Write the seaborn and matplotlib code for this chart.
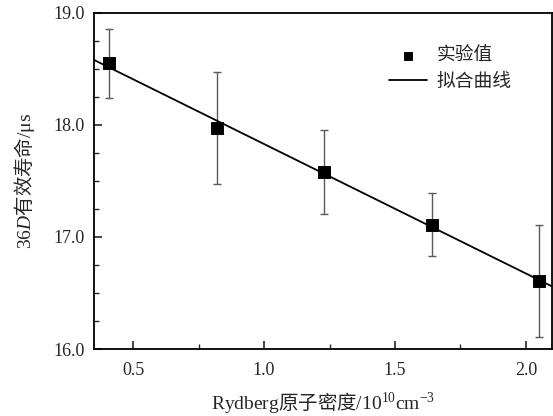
import numpy as np
import pandas as pd
import matplotlib
matplotlib.use("Agg")
import matplotlib.pyplot as plt
import seaborn as sns
from matplotlib.ticker import MultipleLocator, FormatStrFormatter

# data
density = [0.41, 0.82, 1.23, 1.64, 2.05]          # 10^10 cm^-3
lifetime = [18.55, 17.97, 17.58, 17.11, 16.61]     # us
lifetime_err = [0.31, 0.50, 0.375, 0.28, 0.50]

X_RANGE = (0.351, 2.099)
Y_RANGE = (16.0, 19.0)

sns.set_theme(style="ticks")
plt.rcParams["font.family"] = ["Liberation Serif", "Noto Sans CJK SC"]
plt.rcParams["mathtext.fontset"] = "custom"
plt.rcParams["mathtext.rm"] = "Liberation Serif"
plt.rcParams["mathtext.it"] = "Liberation Serif:italic"
plt.rcParams["mathtext.sf"] = "Noto Sans CJK SC"

df = pd.DataFrame({"x": density, "y": lifetime, "err": lifetime_err})

# linear fit
k, b = np.polyfit(df["x"], df["y"], 1)
fit = pd.DataFrame({"x": list(X_RANGE)})
fit["y"] = k * fit["x"] + b

fig = plt.figure(figsize=(5.53, 4.16), dpi=100)
ax = fig.add_axes([0.170, 0.161, 0.828, 0.808])

ax.errorbar(df["x"], df["y"], yerr=df["err"], fmt="none", ecolor="#5a5a5a",
            elinewidth=1.0, capsize=3, capthick=1.0, zorder=2)
sns.lineplot(data=fit, x="x", y="y", color="black", linewidth=1.3,
             label="拟合曲线", ax=ax, zorder=3)
sns.scatterplot(data=df, x="x", y="y", marker="s", s=70, color="black",
                edgecolor="black", label="实验值", ax=ax, zorder=4)

ax.set_xlim(*X_RANGE)
ax.set_ylim(*Y_RANGE)
ax.xaxis.set_major_locator(MultipleLocator(0.5))
ax.xaxis.set_minor_locator(MultipleLocator(0.25))
ax.yaxis.set_major_locator(MultipleLocator(1.0))
ax.yaxis.set_minor_locator(MultipleLocator(0.25))
ax.xaxis.set_major_formatter(FormatStrFormatter("%.1f"))
ax.yaxis.set_major_formatter(FormatStrFormatter("%.1f"))
ax.tick_params(which="major", direction="in", length=6, width=1.2,
               labelsize=13, top=False, right=False, pad=7)
ax.tick_params(axis="x", which="major", pad=9)
ax.tick_params(which="minor", direction="in", length=3.5, width=1.0,
               top=False, right=False)
for sp in ax.spines.values():
    sp.set_visible(True)
    sp.set_linewidth(1.3)
    sp.set_color("black")

ax.set_xlabel("Rydberg$\\mathsf{原子密度}$/10$^{10}$cm$^{-3}$", fontsize=14)
ax.set_ylabel("36$\\mathit{D}$$\\mathsf{有效寿命}$/μs", fontsize=14)
ax.xaxis.set_label_coords(0.5, -0.122)
ax.yaxis.set_label_coords(-0.125, 0.5)

handles, labels = ax.get_legend_handles_labels()
order = [labels.index("实验值"), labels.index("拟合曲线")]
ax.legend([handles[i] for i in order], [labels[i] for i in order],
          loc="upper right", bbox_to_anchor=(0.948, 0.955), frameon=False,
          prop={"family": "Noto Sans CJK SC", "size": 13.5},
          handlelength=2.0, handletextpad=0.5, labelspacing=0.25,
          markerscale=0.65)

fig.savefig("out.png", dpi=100)
plt.close(fig)
